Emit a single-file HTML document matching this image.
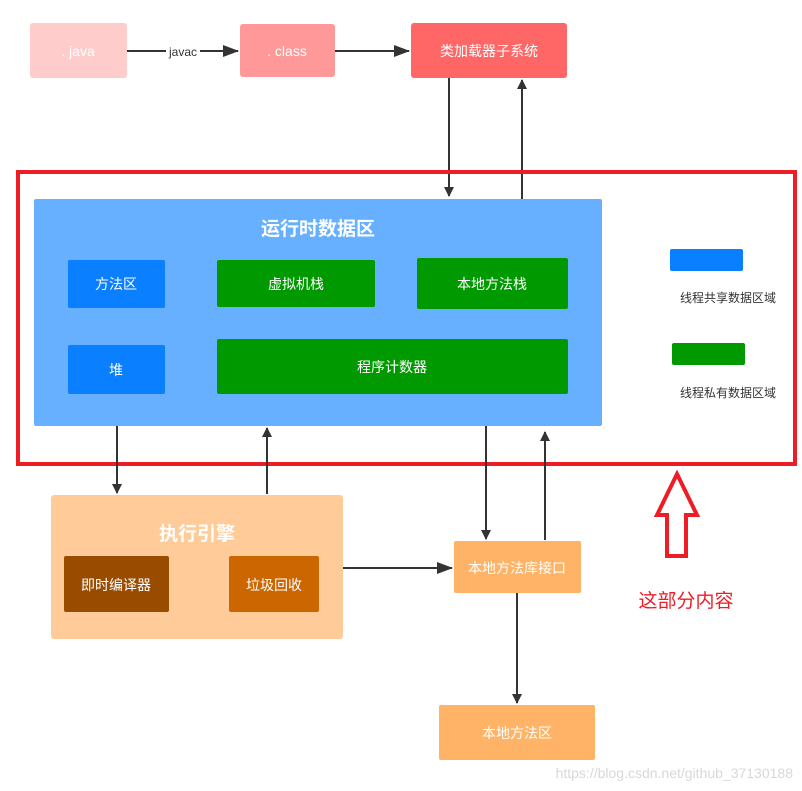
<!DOCTYPE html>
<html><head><meta charset="utf-8"><style>
html,body{margin:0;padding:0;background:#fff;}
svg{display:block;font-family:"Liberation Sans","Noto Sans CJK SC",sans-serif;}
</style></head><body>
<svg width="802" height="791" viewBox="0 0 802 791">
<defs>
<marker id="a" markerWidth="10" markerHeight="10" refX="9" refY="5" orient="auto" markerUnits="userSpaceOnUse">
<path d="M0,0 L10,5 L0,10 Z" fill="#333"/></marker>
<marker id="b" markerWidth="16" markerHeight="12" refX="15" refY="6" orient="auto" markerUnits="userSpaceOnUse">
<path d="M0,0 L16,6 L0,12 Z" fill="#333"/></marker>
</defs>
<g font-size="14" fill="#fff" text-anchor="middle">
<rect x="30" y="23" width="97" height="55" rx="3" fill="#ffcccc"/>
<text x="78" y="56">. java</text>
<rect x="240" y="24" width="95" height="53" rx="3" fill="#ff9999"/>
<text x="287" y="56">. class</text>
<rect x="411" y="23" width="156" height="55" rx="3" fill="#ff6666"/>
<text x="489" y="56">类加载器子系统</text>
</g>
<line x1="127" y1="51" x2="238" y2="51" stroke="#333" stroke-width="2" marker-end="url(#b)"/>
<rect x="166" y="44" width="34" height="14" fill="#fff"/>
<text x="183" y="56" font-size="12" fill="#333" text-anchor="middle">javac</text>
<line x1="335" y1="51" x2="409" y2="51" stroke="#333" stroke-width="2" marker-end="url(#b)"/>
<line x1="449" y1="78" x2="449" y2="196" stroke="#333" stroke-width="2" marker-end="url(#a)"/>
<line x1="522" y1="199" x2="522" y2="80" stroke="#333" stroke-width="2" marker-end="url(#a)"/>

<rect x="18" y="172" width="777" height="292" fill="none" stroke="#ee1c25" stroke-width="4"/>
<rect x="34" y="199" width="568" height="227" rx="2" fill="#66b0ff"/>
<text x="318" y="235" font-size="19" font-weight="bold" fill="#fff" text-anchor="middle">运行时数据区</text>
<g font-size="14" fill="#fff" text-anchor="middle">
<rect x="68" y="260" width="97" height="48" rx="2" fill="#0a7fff"/>
<text x="116" y="289">方法区</text>
<rect x="68" y="345" width="97" height="49" rx="2" fill="#0a7fff"/>
<text x="116" y="375">堆</text>
<rect x="217" y="260" width="158" height="47" rx="2" fill="#009900"/>
<text x="296" y="289">虚拟机栈</text>
<rect x="417" y="258" width="151" height="51" rx="2" fill="#009900"/>
<text x="492" y="289">本地方法栈</text>
<rect x="217" y="339" width="351" height="55" rx="2" fill="#009900"/>
<text x="392" y="372">程序计数器</text>
</g>
<rect x="670" y="249" width="73" height="22" rx="2" fill="#0a7fff"/>
<text x="728" y="302" font-size="12" fill="#333" text-anchor="middle">线程共享数据区域</text>
<rect x="672" y="343" width="73" height="22" rx="2" fill="#009900"/>
<text x="728" y="397" font-size="12" fill="#333" text-anchor="middle">线程私有数据区域</text>

<line x1="117" y1="426" x2="117" y2="493" stroke="#333" stroke-width="2" marker-end="url(#a)"/>
<line x1="267" y1="494" x2="267" y2="428" stroke="#333" stroke-width="2" marker-end="url(#a)"/>
<line x1="486" y1="426" x2="486" y2="539" stroke="#333" stroke-width="2" marker-end="url(#a)"/>
<line x1="545" y1="540" x2="545" y2="432" stroke="#333" stroke-width="2" marker-end="url(#a)"/>
<line x1="343" y1="568" x2="452" y2="568" stroke="#333" stroke-width="2" marker-end="url(#b)"/>
<line x1="517" y1="593" x2="517" y2="703" stroke="#333" stroke-width="2" marker-end="url(#a)"/>

<rect x="51" y="495" width="292" height="144" rx="3" fill="#ffcc99"/>
<text x="197" y="540" font-size="19" font-weight="bold" fill="#fff" text-anchor="middle">执行引擎</text>
<g font-size="14" fill="#fff" text-anchor="middle">
<rect x="64" y="556" width="105" height="56" rx="2" fill="#994c00"/>
<text x="116" y="590">即时编译器</text>
<rect x="229" y="556" width="90" height="56" rx="2" fill="#cc6600"/>
<text x="274" y="590">垃圾回收</text>
<rect x="454" y="541" width="127" height="52" rx="2" fill="#ffb366"/>
<text x="517" y="573">本地方法库接口</text>
<rect x="439" y="705" width="156" height="55" rx="2" fill="#ffb366"/>
<text x="517" y="738">本地方法区</text>
</g>

<path d="M677,474 L697,515 L686,515 L686,556 L667,556 L667,515 L657,515 Z" fill="none" stroke="#ee1c25" stroke-width="4"/>
<text x="686" y="607" font-size="19" fill="#ee1c25" text-anchor="middle">这部分内容</text>
<text x="793" y="778" font-size="14" fill="#d8d8d8" text-anchor="end">https://blog.csdn.net/github_37130188</text>
</svg>
</body></html>
